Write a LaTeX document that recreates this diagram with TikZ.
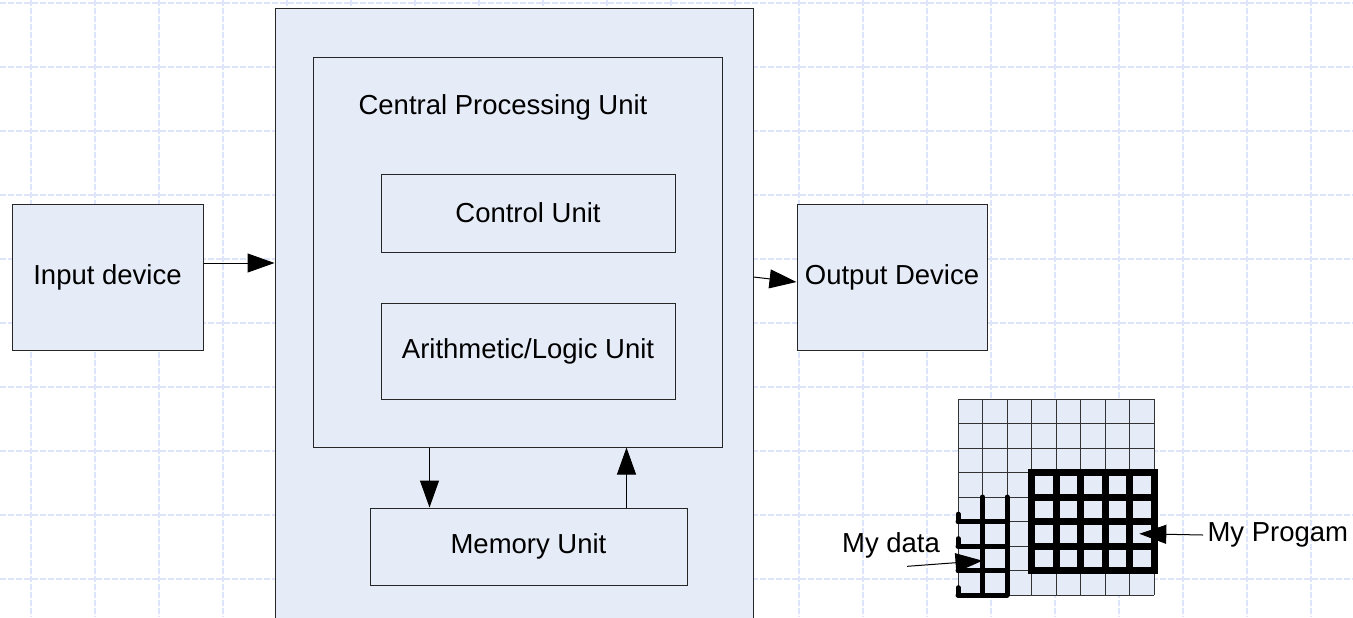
\documentclass[tikz,border=0pt]{standalone}
\usepackage{fontspec}
\setmainfont{Liberation Sans}
\usepackage{tikz}
\usetikzlibrary{arrows,arrows.meta,positioning}

\definecolor{unitfill}{RGB}{230,236,247}
\definecolor{gridblue}{RGB}{222,229,250}

\begin{document}
\begin{tikzpicture}[x=0.5pt,y=-0.5pt,>={Triangle[length=13.5pt,width=9.5pt]},
										font=\fontsize{13.75}{16}\selectfont,line width=0.5pt]
	\tikzstyle{unit}=[draw=black!85,fill=unitfill,inner sep=0pt]
	\tikzstyle{gridline}=[draw=gridblue,line width=0.75pt,dash pattern=on 3pt off 1pt]
	\tikzstyle{label}=[inner sep=0pt]

	\useasboundingbox (0,0) rectangle (1353,617);
	% dashed page grid
	\foreach \x in {31,95,...,1343} \draw[gridline] (\x,0) -- (\x,617);
	\foreach \y in {3,67,...,579} \draw[gridline] (0,\y) -- (1353,\y);

	\node[unit,minimum width=239pt,minimum height=316pt] (board) at (514,324) {};
	\node[unit,minimum width=204.5pt,minimum height=195pt] (cpu) at (517.5,252) {};
	\node[label]                    (cputitle) at (503,107) {Central Processing Unit};
	\node[unit,minimum width=147pt,minimum height=39pt]  (control) at (528,213) {Control Unit};
	\node[unit,minimum width=147pt,minimum height=48pt]  (alu) [below=25pt of control] {Arithmetic/Logic Unit};
	\node[unit,minimum width=158.5pt,minimum height=38.5pt] (memory) at (528.5,546.5) {Memory Unit};
	\node[unit,minimum width=95.5pt,minimum height=73pt] (input) at (107.5,277) {Input device};
	\node[unit,minimum width=95pt,minimum height=73pt]   (output) at (892,277) {Output Device};

	\draw[->] ([yshift=7pt]input.east) -- ([yshift=7pt]board.west |- input.east);
	\draw[->] (board.east |- output.west) -- ([yshift=-2.5pt]output.west);
	\draw[->] ([xshift=30pt]memory.north west |- cpu.south) -- ([xshift=30pt]memory.north west);
	\draw[->] ([xshift=-30.5pt]memory.north east) -- ([xshift=-30.5pt]memory.north east |- cpu.south);

	% memory cells
	\begin{scope}[shift={(958,399)},x=12.25pt,y=-12.25pt]
		\fill[unitfill] (0,0) rectangle (8,8);
		\foreach \i in {0,...,8} {
			\draw[black!80] (\i,0) -- (\i,8);
			\draw[black!80] (0,\i) -- (8,\i);
		}
		% program block
		\draw[line width=3.5pt] (3,3) rectangle (8,7);
		\foreach \i in {4,...,7} \draw[line width=3.5pt] (\i,3) -- (\i,7);
		\foreach \i in {4,5,6} \draw[line width=3.5pt] (3,\i) -- (8,\i);
		% data block
		\foreach \i in {1,2} \draw[line width=2.5pt,line cap=round] (\i,4) -- (\i,8);
		\foreach \i in {5,...,8} {
			\draw[line width=2.5pt,line cap=round] (0,\i) -- (2,\i);
			\draw[line width=2.5pt,line cap=round] (0,\i-0.3) -- (0,\i);
		}
		\coordinate (progtip) at (7.4,5.5);
		\coordinate (datatip) at (1,6.6);
	\end{scope}

	\node[label,anchor=west] (progtext) at (1207,535) {My Progam};
	\node[label]             (datatext) at (891,545) {My data};
	\draw[->] ([xshift=-2pt]progtext.west) -- (progtip);
	\draw[->] ([shift={(8pt,-4pt)}]datatext.south) -- (datatip);
\end{tikzpicture}
\end{document}
